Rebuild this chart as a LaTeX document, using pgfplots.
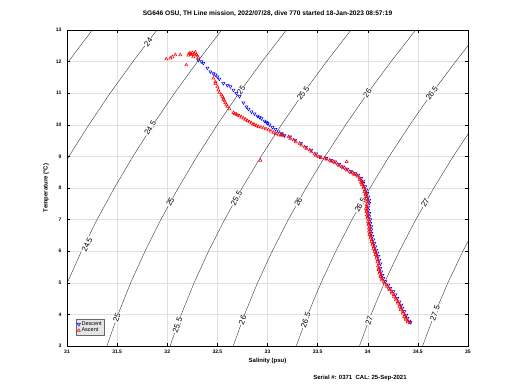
\documentclass[border=0pt]{standalone}
\usepackage{fontspec}
\setmainfont{Liberation Sans}
\usepackage{pgfplots}
\pgfplotsset{compat=1.18}
\begin{document}
\begin{tikzpicture}[x=1pt,y=1pt]
\useasboundingbox (0,0) rectangle (520,390);
\begin{axis}[
 at={(67pt,44pt)}, anchor=south west,
 width=401pt, height=316pt, scale only axis,
 xmin=31, xmax=35, ymin=3, ymax=13,
 xtick={31,31.5,32,32.5,33,33.5,34,34.5,35},
 xticklabels={31,31.5,32,32.5,33,33.5,34,34.5,35},
 ytick={3,4,5,6,7,8,9,10,11,12,13},
 grid=major, grid style={black!12, line width=0.3pt},
 tick align=inside, major tick length=3pt,
 tick style={black, line width=0.4pt},
 axis line style={black, line width=0.5pt},
 tick label style={font=\fontsize{5}{5.5}\selectfont\bfseries},
 /pgf/number format/assume math mode=true,
 yticklabel style={xshift=-2pt},
 xlabel={Salinity (psu)}, ylabel={Temperature (°C)},
 xlabel style={font=\fontsize{6}{6.5}\selectfont\bfseries, at={(axis description cs:0.5,-0.027)}, anchor=north},
 ylabel style={font=\fontsize{6}{6.5}\selectfont\bfseries, at={(axis description cs:-0.052,0.5)}, anchor=center},
 title={SG646 OSU, TH Line mission, 2022/07/28, dive 770 started 18-Jan-2023 08:57:19},
 title style={font=\fontsize{6.6}{7}\selectfont\bfseries, at={(axis description cs:0.5,1)}, anchor=south, yshift=4pt},
 legend style={at={(0.022,0.085)}, anchor=north west, fill=black!10, draw=black!60, font=\fontsize{5.5}{6}\selectfont, inner sep=1.2pt, row sep=-1.5pt, nodes={inner sep=1.2pt}},
 legend cell align=left,
]
% density contours (sigma-theta), coordinates (S,T)
\pgfplotsset{cont/.style={black!85, line width=0.35pt, forget plot}}
\addplot[cont] coordinates {(29.509,3) (29.615,4) (29.737,5) (29.875,6) (30.029,7) (30.197,8) (30.381,9) (30.577,10) (30.788,11) (31.014,12) (31.252,13)};
\addplot[cont] coordinates {(30.139,3) (30.246,4) (30.370,5) (30.509,6) (30.664,7) (30.835,8) (31.019,9) (31.218,10) (31.430,11) (31.658,12) (31.897,13)};
\addplot[cont] coordinates {(30.768,3) (30.877,4) (31.003,5) (31.144,6) (31.300,7) (31.472,8) (31.658,9) (31.858,10) (32.072,11) (32.302,12) (32.543,13)};
\addplot[cont] coordinates {(31.398,3) (31.509,4) (31.635,5) (31.778,6) (31.936,7) (32.110,8) (32.297,9) (32.499,10) (32.714,11) (32.945,12) (33.188,13)};
\addplot[cont] coordinates {(32.028,3) (32.140,4) (32.268,5) (32.412,6) (32.572,7) (32.747,8) (32.936,9) (33.139,10) (33.356,11) (33.589,12) (33.833,13)};
\addplot[cont] coordinates {(32.658,3) (32.771,4) (32.901,5) (33.047,6) (33.208,7) (33.384,8) (33.575,9) (33.780,10) (33.998,11) (34.232,12) (34.478,13)};
\addplot[cont] coordinates {(33.287,3) (33.402,4) (33.534,5) (33.681,6) (33.843,7) (34.022,8) (34.214,9) (34.420,10) (34.640,11) (34.876,12) (35.123,13)};
\addplot[cont] coordinates {(33.917,3) (34.034,4) (34.166,5) (34.315,6) (34.479,7) (34.659,8) (34.853,9) (35.061,10)};
\addplot[cont] coordinates {(34.547,3) (34.665,4) (34.799,5) (34.949,6) (35.115,7)};
% contour labels
\tikzset{cl/.style={fill=white, inner sep=0.6pt, font=\fontsize{7.8}{8}\selectfont}}
\node[cl, rotate=53] at (axis cs:31.81,12.62) {24};
\node[cl, rotate=57.6] at (axis cs:31.83,9.9) {24.5};
\node[cl, rotate=63.7] at (axis cs:31.20,6.2) {24.5};
\node[cl, rotate=54.5] at (axis cs:32.737,11.1) {25};
\node[cl, rotate=61.2] at (axis cs:32.03,7.56) {25};
\node[cl, rotate=70.5] at (axis cs:31.497,3.89) {25};
\node[cl, rotate=54.4] at (axis cs:33.356,11.0) {25.5};
\node[cl, rotate=61] at (axis cs:32.69,7.68) {25.5};
\node[cl, rotate=70.5] at (axis cs:32.102,3.66) {25.5};
\node[cl, rotate=54.3] at (axis cs:33.998,11.0) {26};
\node[cl, rotate=61] at (axis cs:33.307,7.56) {26};
\node[cl, rotate=70.5] at (axis cs:32.751,3.82) {26};
\node[cl, rotate=54] at (axis cs:34.640,11.0) {26.5};
\node[cl, rotate=60.5] at (axis cs:33.925,7.46) {26.5};
\node[cl, rotate=70] at (axis cs:33.381,3.82) {26.5};
\node[cl, rotate=60] at (axis cs:34.574,7.53) {27};
\node[cl, rotate=70] at (axis cs:34.013,3.82) {27};
\node[cl, rotate=70] at (axis cs:34.67,4.04) {27.5};
% Descent
\addplot[only marks, color=blue, mark=triangle, mark size=1.8pt, mark options={rotate=180, line width=0.5pt}] coordinates {
(32.31,12.05) (32.34,12.00) (32.36,11.95) (32.40,11.80) (32.43,11.68) (32.46,11.62) (32.48,11.58) (32.50,11.52) (32.52,11.45) (32.56,11.31) (32.60,11.25) (32.63,11.21) (32.66,11.10) (32.69,11.00) (32.72,10.90) (32.76,10.70) (32.79,10.57) (32.81,10.50) (32.84,10.41) (32.87,10.35) (32.90,10.28) (32.92,10.24) (32.94,10.20) (32.97,10.12) (32.99,10.08) (33.00,10.05) (33.02,10.00) (33.05,9.92) (33.08,9.86) (33.11,9.78) (33.14,9.72) (33.17,9.66)
(33.225,9.62) (33.275,9.52) (33.335,9.41) (33.385,9.30) (33.435,9.20) (33.485,9.08) (33.525,8.99) (33.585,8.94) (33.635,8.88) (33.675,8.83) (33.715,8.75) (33.755,8.67) (33.795,8.60) (33.835,8.52) (33.875,8.46) (33.905,8.41) (33.935,8.31) (33.955,8.22) (33.955,8.15) (33.975,8.05) (33.985,7.94) (33.995,7.83) (34.005,7.72) (34.015,7.62) (34.015,7.52) (34.005,7.40) (34.005,7.30) (34.015,7.20) (34.015,7.10) (34.025,7.00) (34.025,6.88) (34.035,6.78) (34.035,6.68) (34.035,6.57) (34.045,6.47) (34.055,6.36) (34.065,6.25) (34.075,6.14) (34.085,6.04) (34.095,5.94) (34.105,5.84) (34.115,5.72) (34.125,5.60) (34.125,5.46) (34.135,5.35) (34.145,5.24) (34.155,5.14) (34.175,5.04) (34.205,4.93) (34.225,4.83) (34.255,4.72) (34.275,4.62) (34.295,4.51) (34.315,4.40) (34.335,4.30) (34.345,4.20) (34.365,4.09) (34.385,3.98) (34.395,3.88) (34.415,3.79) (34.425,3.75)
};
\addlegendentry{Descent\hspace{10pt}}
% Ascent
\addplot[only marks, color=red, mark=triangle, mark size=1.8pt, mark options={line width=0.5pt}] coordinates {
(34.42,3.73) (34.40,3.79) (34.38,3.88) (34.37,3.98) (34.35,4.09) (34.33,4.20) (34.32,4.30) (34.30,4.40) (34.28,4.51) (34.26,4.62) (34.24,4.72) (34.21,4.83) (34.19,4.93) (34.16,5.04) (34.14,5.14) (34.13,5.24) (34.12,5.35) (34.11,5.46) (34.11,5.60) (34.10,5.72) (34.09,5.84) (34.08,5.94) (34.07,6.04) (34.06,6.14) (34.05,6.25) (34.04,6.36) (34.03,6.47) (34.02,6.57) (34.02,6.68) (34.02,6.78) (34.01,6.88) (34.01,7.00) (34.00,7.10) (34.00,7.20) (33.99,7.30) (33.99,7.40) (34.00,7.52) (34.00,7.62) (33.99,7.72) (33.98,7.83) (33.97,7.94) (33.96,8.05) (33.94,8.15) (33.94,8.22) (33.92,8.31) (33.89,8.41) (33.86,8.46) (33.82,8.52) (33.78,8.60) (33.74,8.67) (33.70,8.75) (33.66,8.83) (33.62,8.88) (33.57,8.94) (33.51,8.99) (33.47,9.08) (33.42,9.20) (33.37,9.30) (33.32,9.41) (33.26,9.52) (33.21,9.62)
(34.40,3.76) (34.38,3.84) (34.365,3.93) (34.35,4.04) (34.33,4.15) (34.317,4.25) (34.30,4.35) (34.282,4.46) (34.262,4.57) (34.242,4.67) (34.217,4.78) (34.192,4.88) (34.167,4.99) (34.142,5.09) (34.127,5.19) (34.117,5.30) (34.107,5.41) (34.102,5.53) (34.097,5.66) (34.087,5.78) (34.077,5.89) (34.067,5.99) (34.057,6.09) (34.047,6.20) (34.037,6.31) (34.027,6.42) (34.017,6.52) (34.012,6.63) (34.012,6.73) (34.007,6.83) (34.002,6.94) (33.997,7.05) (33.992,7.15) (33.987,7.25) (33.982,7.35) (33.987,7.46) (33.992,7.57) (33.987,7.67) (33.977,7.78) (33.967,7.88) (33.957,8.00) (33.942,8.10) (33.932,8.18) (33.922,8.26) (33.897,8.37) (33.867,8.43) (33.832,8.49) (33.792,8.56) (33.752,8.63) (33.712,8.71) (33.672,8.79) (33.632,8.85) (33.587,8.91) (33.532,8.96) (33.482,9.03) (33.437,9.14) (33.387,9.25) (33.337,9.35) (33.282,9.46) (33.227,9.57)
(33.16,9.66) (33.11,9.68) (33.06,9.76) (33.01,9.84) (32.96,9.90) (32.91,9.94) (32.87,10.00) (32.84,10.05) (32.80,10.13) (32.76,10.21) (32.72,10.28) (32.69,10.33) (32.66,10.38) (32.62,10.50) (32.60,10.58) (32.59,10.63) (32.58,10.70) (32.57,10.75) (32.56,10.80) (32.56,10.84) (32.55,10.90) (32.54,10.94) (32.52,11.02) (32.51,11.10) (32.50,11.20) (32.48,11.30) (32.48,11.36) (32.46,11.47)
(33.135,9.67) (33.085,9.72) (33.035,9.80) (32.985,9.87) (32.935,9.92) (32.89,9.97) (32.855,10.02) (32.82,10.09) (32.78,10.17) (32.74,10.24) (32.705,10.30) (32.675,10.35)
(32.31,12.12) (32.30,12.18) (32.29,12.22) (32.27,12.25) (32.28,12.30) (32.25,12.28) (32.26,12.15) (32.24,12.22) (32.23,12.25) (32.22,12.27) (32.21,12.20) (32.19,11.89) (32.13,12.21) (32.08,12.21) (32.05,12.15) (32.03,12.11) (31.99,12.08)
(32.93,8.87) (33.79,8.83) (33.14,9.68)
};
\addlegendentry{Ascent}
\end{axis}
\node[font=\fontsize{6}{6.5}\selectfont\bfseries] at (360,12) {Serial \#: 0371\ \ CAL: 25-Sep-2021};
\end{tikzpicture}
\end{document}
